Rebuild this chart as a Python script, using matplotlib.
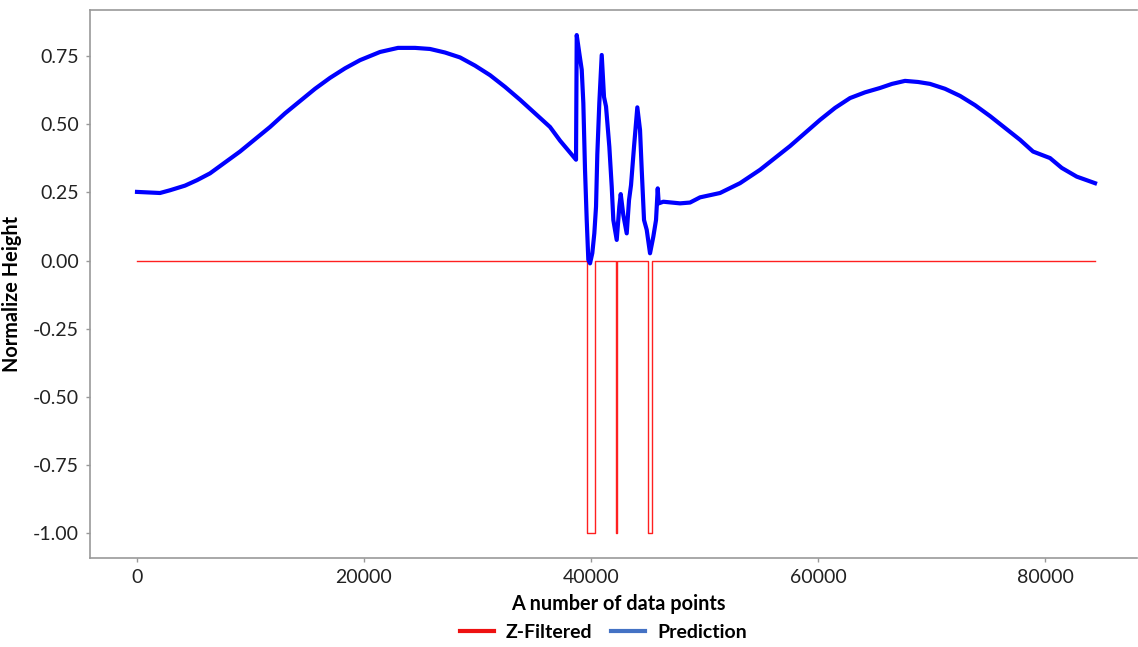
"""Normalized height prediction vs. z-filtered anomaly flags."""

import matplotlib
matplotlib.use("Agg")
import matplotlib.pyplot as plt
from matplotlib.lines import Line2D

# Prediction curve
PRED_X = [0, 2026, 2907, 4229, 5286, 6432, 7753, 9075, 10396, 11718, 13040,
          14361, 15683, 17004, 18326, 19648, 21410, 22996, 24493, 25815,
          27137, 28458, 29780, 31101, 32423, 33744, 35066, 36388, 37269,
          38678, 38740,
          38969, 39181, 39322, 39471, 39621, 39762, 39912, 40115, 40291,
          40441, 40555, 40731, 40943, 41145, 41322, 41612, 41824, 41965,
          42264, 42493, 42617, 42846, 43145, 43348, 43524, 43789, 44079,
          44317, 44467, 44670, 44907, 45198, 45489, 45727, 45877, 45965,
          46370, 47841, 48722, 49604, 51366, 53128, 54890, 57533, 60176,
          61500, 62819, 64140, 65463, 66520, 67665, 68810, 69868, 71190,
          72511, 73830, 75154, 77797, 78943, 80441, 81471, 82793, 84405]
PRED_Y = [0.252, 0.248, 0.258, 0.275, 0.295, 0.32, 0.36, 0.40, 0.445, 0.49,
          0.54, 0.585, 0.63, 0.67, 0.705, 0.735, 0.765, 0.78, 0.78, 0.776,
          0.763, 0.745, 0.715, 0.68, 0.637, 0.59, 0.54, 0.49, 0.44,
          0.37, 0.827,
          0.76, 0.70, 0.578, 0.333, 0.149, 0.003, -0.01, 0.028, 0.10,
          0.198, 0.39, 0.578, 0.754, 0.60, 0.565, 0.418, 0.271, 0.149,
          0.076, 0.198, 0.244, 0.167, 0.10, 0.222, 0.277, 0.418, 0.562,
          0.479, 0.333, 0.149, 0.113, 0.027, 0.088, 0.149, 0.265, 0.21,
          0.216, 0.21, 0.213, 0.232, 0.248, 0.284, 0.333, 0.42, 0.516,
          0.56, 0.596, 0.617, 0.633, 0.648, 0.659, 0.655, 0.648, 0.630,
          0.604, 0.57, 0.53, 0.443, 0.40, 0.376, 0.34, 0.308, 0.284]

# Z-filtered flags: series runs 0..END, dropping to -1 inside each window
Z_END = 84400
FLAG_STARTS = [39620, 42200, 45000]
FLAG_ENDS = [40350, 42320, 45400]

X_TICKS = [0, 20000, 40000, 60000, 80000]
Y_TICKS = [0.75, 0.50, 0.25, 0.00, -0.25, -0.50, -0.75, -1.00]

plt.rcParams["font.family"] = ["Lato", "DejaVu Sans"]


def z_step_series():
    xs, ys = [0], [0]
    for s, e in zip(FLAG_STARTS, FLAG_ENDS):
        xs += [s, s, e, e]
        ys += [0, -1, -1, 0]
    xs.append(Z_END)
    ys.append(0)
    return xs, ys


def main():
    fig = plt.figure(figsize=(11.38, 6.47), dpi=100)
    ax = fig.add_axes([0.0791, 0.1376, 0.92, 0.847])

    zx, zy = z_step_series()
    ax.plot(zx, zy, color="#ff2020", linewidth=1.0)
    ax.plot(PRED_X, PRED_Y, color="#0000ff", linewidth=3.0)

    ax.set_xlim(-4140, 88100)
    ax.set_ylim(-1.09, 0.919)
    ax.set_xticks(X_TICKS)
    ax.set_xticklabels([str(v) for v in X_TICKS])
    ax.set_yticks(Y_TICKS)
    ax.set_yticklabels([f"{v:.2f}" for v in Y_TICKS])
    ax.tick_params(colors="#999999", labelcolor="#222222", labelsize=14,
                   length=3, width=1, pad=5)

    for side in ("left", "bottom", "top"):
        ax.spines[side].set_color("#999999")
        ax.spines[side].set_linewidth(1.2)
    ax.spines["right"].set_visible(False)

    ax.set_xlabel("A number of data points", fontsize=14.3,
                  fontweight="bold")
    ax.xaxis.set_label_coords(0.505, -0.066)
    ax.set_ylabel("Normalize Height", fontsize=14.3, fontweight="bold")
    ax.yaxis.set_label_coords(-0.065, 0.482)

    handles = [Line2D([], [], color="#ee1111", linewidth=3),
               Line2D([], [], color="#4472c4", linewidth=3)]
    fig.legend(handles, ["Z-Filtered", "Prediction"], loc="center",
               bbox_to_anchor=(0.53, 0.022), ncol=2, frameon=False,
               prop={"size": 14, "weight": "bold"}, handlelength=1.75,
               handletextpad=0.6, columnspacing=1.0)

    fig.savefig("out.png", dpi=100)


if __name__ == "__main__":
    main()
